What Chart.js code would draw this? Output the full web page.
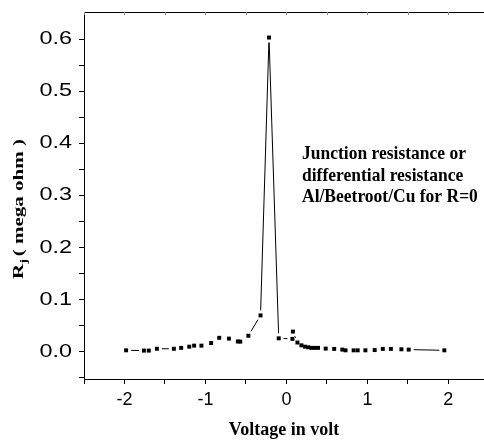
<!DOCTYPE html>
<html>
<head>
<meta charset="utf-8">
<script src="https://cdn.jsdelivr.net/npm/chart.js@4.4.1/dist/chart.umd.min.js"></script>
<style>
  html, body { margin: 0; padding: 0; background: #fff; overflow: hidden; }
</style>
</head>
<body>
<canvas id="rjChart" width="484" height="441"></canvas>
<script>
// valori: tensione (V) e resistenza di giunzione (mega ohm)
const voltage = [-1.98, -1.76, -1.70, -1.60, -1.39, -1.30, -1.20, -1.14, -1.05, -0.93,
  -0.83, -0.71, -0.60, -0.57, -0.47, -0.32, -0.215, -0.095, 0.074, 0.08,
  0.136, 0.185, 0.23, 0.27, 0.31, 0.35, 0.39, 0.485, 0.59, 0.69,
  0.73, 0.83, 0.88, 0.975, 1.09, 1.19, 1.29, 1.42, 1.51, 1.95];
const resistance = [0.003, 0.0025, 0.0025, 0.006, 0.006, 0.0077, 0.010, 0.012, 0.012, 0.017,
  0.027, 0.0255, 0.020, 0.0197, 0.031, 0.070, 0.603, 0.026, 0.025, 0.039,
  0.018, 0.0126, 0.010, 0.0088, 0.0077, 0.0077, 0.0077, 0.0063, 0.0057, 0.0044,
  0.003, 0.003, 0.003, 0.003, 0.0035, 0.0057, 0.0057, 0.005, 0.0044, 0.003];

const xTicks = [-2.5, -2, -1.5, -1, -0.5, 0, 0.5, 1, 1.5, 2];
const xTickLabels = ['', '-2', '', '-1', '', '0', '', '1', '', '2'];
const yTicks = [-0.05, 0, 0.05, 0.1, 0.15, 0.2, 0.25, 0.3, 0.35, 0.4, 0.45, 0.5, 0.55, 0.6];
const yTickLabels = ['', '0.0', '', '0.1', '', '0.2', '', '0.3', '', '0.4', '', '0.5', '', '0.6'];

const noteLines = ['Junction resistance or', 'differential resistance', 'Al/Beetroot/Cu for R=0'];

const GAP = 5; // spazio vuoto attorno ai simboli, come in Origin
const serif = '"Liberation Serif", "Times New Roman", serif';
const sans = '"Liberation Sans", Arial, sans-serif';

function segLen(ctx) {
  return Math.hypot(ctx.p1.x - ctx.p0.x, ctx.p1.y - ctx.p0.y);
}

// le etichette dell'asse y nell'originale sono allargate in orizzontale
const stretchYLabels = {
  id: 'stretchYLabels',
  afterUpdate(chart) {
    const y = chart.scales.y;
    if (y._stretched) return;
    const orig = y.drawLabels;
    y.drawLabels = function (area) {
      const c = this.ctx;
      const xr = this.right - this.options.grid.tickLength - this.options.ticks.padding;
      c.save();
      c.translate(xr, 0);
      c.scale(1.3, 1);
      c.translate(-xr, 0);
      orig.call(this, area);
      c.restore();
    };
    y._stretched = true;
  }
};

// bordo superiore, titolo asse y con pedice e testo nel grafico
const extraText = {
  id: 'extraText',
  afterDraw(chart) {
    const { ctx, chartArea, scales } = chart;
    ctx.save();
    ctx.strokeStyle = '#000';
    ctx.lineWidth = 1;
    ctx.beginPath();
    ctx.moveTo(chartArea.left, chartArea.top + 0.5);
    ctx.lineTo(chartArea.right, chartArea.top + 0.5);
    ctx.stroke();
    ctx.strokeStyle = '#888';
    xTicks.forEach(v => {
      const px = Math.round(scales.x.getPixelForValue(v)) + 0.5;
      ctx.beginPath();
      ctx.moveTo(px, chartArea.top);
      ctx.lineTo(px, chartArea.top + 3);
      ctx.stroke();
    });

    // titolo asse y
    ctx.fillStyle = '#000';
    ctx.translate(19, 209);
    ctx.rotate(-Math.PI / 2);
    ctx.scale(1.4, 1);
    const big = 'bold 15px ' + serif;
    const small = 'bold 10px ' + serif;
    const rest = '( mega ohm )';
    ctx.font = big;
    const wR = ctx.measureText('R').width;
    const wRest = ctx.measureText(rest).width;
    ctx.font = small;
    const wj = ctx.measureText('j').width + 2;
    const total = wR + wj + wRest;
    const x0 = -total / 2;
    ctx.textBaseline = 'middle';
    ctx.font = big;
    ctx.fillText('R', x0, 0);
    ctx.font = small;
    ctx.fillText('j', x0 + wR, 5);
    ctx.font = big;
    ctx.fillText(rest, x0 + wR + wj, 0);
    ctx.restore();

    // annotazione
    ctx.save();
    ctx.fillStyle = '#000';
    ctx.font = 'bold 17.5px ' + serif;
    ctx.textBaseline = 'alphabetic';
    noteLines.forEach((t, i) => {
      const by = 159 + i * 21.5;
      ctx.save();
      ctx.translate(302, by);
      ctx.scale(1, 1.1);
      ctx.fillText(t, 0, 0);
      ctx.restore();
    });
    ctx.restore();
  }
};

const ctx = document.getElementById('rjChart').getContext('2d');
const rjChart = new Chart(ctx, {
  type: 'line',
  data: {
    datasets: [{
      data: voltage.map((v, i) => ({ x: v, y: resistance[i] })),
      borderColor: '#000',
      borderWidth: 1,
      pointStyle: 'rect',
      pointRadius: 2.8,
      pointBackgroundColor: '#000',
      pointBorderWidth: 0,
      tension: 0,
      segment: {
        borderColor: c => segLen(c) > 2 * GAP + 1 ? '#000' : 'rgba(0,0,0,0)',
        borderDash: c => {
          const L = segLen(c);
          return L > 2 * GAP + 1 ? [0, GAP, L - 2 * GAP, GAP + 100] : undefined;
        }
      }
    }]
  },
  options: {
    responsive: false,
    animation: false,
    layout: { autoPadding: false, padding: { top: 12, left: 0, right: 0, bottom: 0 } },
    plugins: {
      legend: { display: false },
      tooltip: { enabled: false }
    },
    scales: {
      x: {
        type: 'linear',
        min: -2.5,
        max: 2.44,
        afterBuildTicks: s => { s.ticks = xTicks.map(v => ({ value: v })); },
        afterFit: s => { s.height = 62; s.paddingLeft = 0; s.paddingRight = 0; },
        grid: { drawOnChartArea: false, tickLength: 5, color: '#000' },
        border: { color: '#000', width: 1 },
        ticks: {
          callback: (v, i) => xTickLabels[i],
          color: '#000',
          font: { family: sans, size: 18 },
          padding: 5,
          maxRotation: 0,
          autoSkip: false
        },
        title: {
          display: true,
          text: 'Voltage in volt',
          color: '#000',
          font: { family: serif, size: 18, weight: 'bold' },
          padding: { top: 0, bottom: 0 }
        }
      },
      y: {
        min: -0.052,
        max: 0.652,
        afterBuildTicks: s => { s.ticks = yTicks.map(v => ({ value: v })); },
        afterFit: s => { s.width = 84; s.paddingTop = 0; s.paddingBottom = 0; },
        grid: { drawOnChartArea: false, tickLength: 5, color: '#000' },
        border: { color: '#000', width: 1 },
        ticks: {
          callback: (v, i) => yTickLabels[i],
          color: '#000',
          font: { family: sans, size: 18 },
          padding: 7,
          autoSkip: false
        }
      }
    }
  },
  plugins: [stretchYLabels, extraText]
});
</script>
</body>
</html>
